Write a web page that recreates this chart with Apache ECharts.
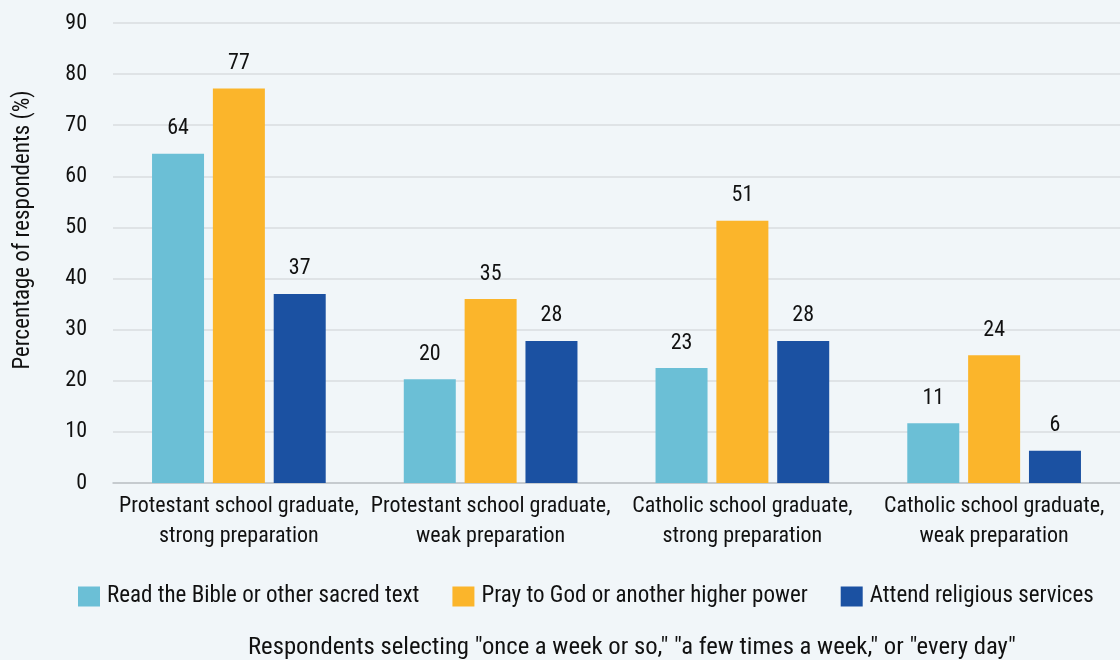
<!DOCTYPE html>
<html>
<head>
<meta charset="utf-8">
<script src="https://cdn.jsdelivr.net/npm/echarts@6/dist/echarts.min.js"></script>
<style>
html,body{margin:0;padding:0;background:#F1F6F9;}
#chart{width:1120px;height:660px;}
</style>
</head>
<body>
<div id="chart"></div>
<script>
var categories = ["Protestant school graduate,\nstrong preparation","Protestant school graduate,\nweak preparation","Catholic school graduate,\nstrong preparation","Catholic school graduate,\nweak preparation"];
var seriesNames = ["Read the Bible or other sacred text","Pray to God or another higher power","Attend religious services"];
var bibleValues = [64.4, 20.3, 22.5, 11.7];
var prayValues = [77.2, 36.0, 51.3, 25.0];
var attendValues = [37.0, 27.8, 27.8, 6.3];
var bibleLabels = ["64","20","23","11"];
var prayLabels = ["77","35","51","24"];
var attendLabels = ["37","28","28","6"];
var yTicks = [0,10,20,30,40,50,60,70,80,90];
var colors = ["#6BBFD6","#FBB52B","#1B51A2"];
var FONT = "'Liberation Sans Narrow','Roboto Condensed','DejaVu Sans Condensed',sans-serif";

var chart = echarts.init(document.getElementById('chart'), null, {renderer:'canvas'});
function mk(i, vals, labs){
  return {
    name: seriesNames[i], type:'bar', data: vals, barWidth: 52, barGap:'17%',
    itemStyle:{color: colors[i]},
    label:{show:true, position:'top', distance:14, fontFamily:FONT, fontSize:22, color:'#111',
      formatter:function(p){return labs[p.dataIndex];}}
  };
}
chart.setOption({
  backgroundColor:'#F1F6F9',
  animation:false,
  textStyle:{fontFamily:FONT},
  grid:{left:113, right:0, top:23, bottom:177, outerBoundsMode:'none', containLabel:false},
  title:{text:'Respondents selecting "once a week or so," "a few times a week," or "every day"', left:243, top:630,
    textStyle:{fontFamily:FONT, fontSize:24.7, fontWeight:'normal', color:'#111'}},
  legend:{top:580, left:73, itemWidth:22, itemHeight:20, itemGap:33, icon:'rect',
    textStyle:{fontFamily:FONT, fontSize:23, color:'#111', padding:[0,0,0,2]}, data: seriesNames},
  xAxis:{type:'category', data:categories,
    axisLine:{lineStyle:{color:'#BFC3C7', width:1.5}}, axisTick:{show:false},
    axisLabel:{fontFamily:FONT, fontSize:22, color:'#111', lineHeight:30, margin:8, interval:0}},
  yAxis:{type:'value', min:0, max:90, interval:10,
    name:'Percentage of respondents (%)', nameLocation:'middle', nameGap:78, nameRotate:90,
    nameTextStyle:{fontFamily:FONT, fontSize:23, color:'#111', padding:[0,0,0,46]},
    axisLine:{show:false}, axisTick:{show:false},
    axisLabel:{fontFamily:FONT, fontSize:22, color:'#111', margin:26,
      formatter:function(v){return yTicks.indexOf(v)>=0? String(v):'';}},
    splitLine:{lineStyle:{color:'#D9DCDF', width:1.5}}},
  series:[mk(0,bibleValues,bibleLabels), mk(1,prayValues,prayLabels), mk(2,attendValues,attendLabels)]
});
</script>
</body>
</html>
